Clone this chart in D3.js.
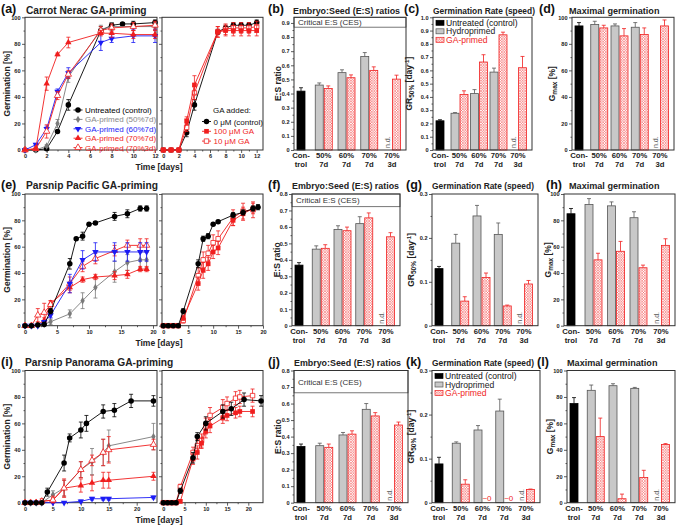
<!DOCTYPE html>
<meta charset="utf-8">
<style>
body { margin: 0; background: #fff; }
text { font-family: "Liberation Sans", Arial, sans-serif; }
.frame { fill: none; stroke: #333; stroke-width: 1; }
.axis path { display: none; }
.axis line { stroke: #333; stroke-width: 0.8; }
.axis text { font-size: 5.6px; font-weight: bold; fill: #222; font-family: "Liberation Sans", Arial, sans-serif; }
.letter { font-size: 12.5px; font-weight: bold; fill: #111; }
.title { font-weight: bold; fill: #222; }
.axtitle { font-size: 8.5px; font-weight: bold; fill: #222; }
.leg { font-size: 8px; }
.bleg { font-size: 8.6px; }
.xlab { font-size: 7.7px; font-weight: bold; fill: #222; }
.ces { font-size: 8px; fill: #333; }
</style>
<svg width="677" height="527"></svg>
<script src="https://d3js.org/d3.v7.min.js"></script>
<script>
// ---------------- germination curves [%] ----------------
// (a) carrot Nerac, primed seed lots
var daysA = [0, 1, 2, 3, 4, 7, 8, 9, 10, 12];
var aCtrl     = [0, 0, 1, 14, 34, 90, 94, 95, 95, 96];
var aCtrlErr  = [0, 0, 1, 1, 4, 3, 2, 1, 2, 2];
var aGA50     = [0, 0, 3, 20, 55, 91, 93, null, 93, 93];
var aGA50Err  = [0, 0, 1, 3, 4, 3, 3, null, 3, 3];
var aGA60     = [0, 4, 16, 44, 58, 81, 84, null, 86, 86];
var aGA60Err  = [1, 1, 2, 2, 4, 6, 3, null, 5, 5];
var aGA70     = [0, 1, 50, 72, 81, 88, 88, null, 87, 87];
var aGA70Err  = [0, 1, 5, 1, 4, 2, 3, null, 3, 3];
var aGA70s    = [0, 1, 14, 41, 57, 90, 92, null, 93, 94];
var aGA70sErr = [1, 1, 5, 3, 3, 3, 3, null, 3, 3];
// (a) right: GA added to the medium
var daysA2 = [0, 1, 2, 3, 4, 7, 8, 9, 10, 11, 12];
var a2Ctrl     = [0, 0, 0, 13, 34, 89, 92, 94, 94, 94, 96];
var a2CtrlErr  = [0, 0, 1, 3, 4, 2, 2, 2, 2, 2, 2];
var a2GA100    = [0, 0, 0, 22, 49, 89, 90, 90, 90, 90, 90];
var a2GA100Err = [0, 0, 0, 3, 7, 4, 4, 4, 4, 4, 4];
var a2GA10     = [0, 0, 0, 17, 43, 89, 91, 92, 92, 92, 93];
var a2GA10Err  = [0, 0, 0, 3, 5, 4, 4, 4, 4, 4, 4];

// (e) parsnip Pacific
var daysE = [0, 1, 2, 3, 4, 7, 8, 9, 10, 11, 14, 16, 18, 19];
var eCtrl     = [0, 0, 0.5, 1, 11, 47, 66, 68, 77, 78, 83, 85, 89, 89];
var eCtrlErr  = [0, 0, 0, 0, 2, 4, 1, 3, 1, 1, 3, 3, 2, 2];
var eGA50     = [0, 0, 0, 1, 3, 9, null, 19, null, 29, 41, 48, 50, 50];
var eGA50Err  = [0, 0, 0, 0, 2, 3, null, 6, null, 8, 8, 6, 6, 6];
var eGA60     = [0, 0, 0, 3, 8, 32, null, 50, null, 56, 56, 56, 56, 56];
var eGA60Err  = [0, 0, 0, 1, 2, 7, null, 7, null, 7, 7, 7, 7, 7];
var eGA70     = [0, 0, 1, 4, 17, 29, null, 35, null, 37, 38, 39, 43, 43];
var eGA70Err  = [0, 0, 1, 2, 2, 4, null, 2, null, 2, 3, 3, 2, 2];
var eGA70s    = [0, 0, 8, 10, 16, 32, null, 45, null, 51, 57, 61, 61, 61];
var eGA70sErr = [0, 0, 5, 7, 3, 5, null, 4, null, 4, 4, 4, 5, 5];
var e2Ctrl     = [0, 0, 0, 0, 11, 47, 66, 68, 77, 79, 84, 86, 89, 90];
var e2CtrlErr  = [0, 0, 0, 0, 2, 3, 2, 2, 1, 1, 2, 2, 2, 2];
var e2GA100    = [0, 0, 0, 0, 6, 32, 42, 47, 56, 59, 80, 85, 89, null];
var e2GA100Err = [0, 0, 0, 0, 2, 5, 6, 5, 5, 5, 4, 5, 4, null];
var e2GA10     = [0, 0, 0, 0, 4, 38, 50, 55, 63, 66, 82, 87, 88, null];
var e2GA10Err  = [0, 0, 0, 0, 2, 6, 6, 6, 6, 6, 6, 6, 6, null];

// (i) parsnip Panorama
var daysI = [0, 1, 2, 3, 4, 5, 7, 8, 10, 11, 12, 14, 15, 16, 19, 23];
var iCtrl     = [0, 0, 0, 0, 8, null, 30, 49, 55, 60, null, 69, null, 70, 77, 77];
var iCtrlErr  = [0, 0, 0, 0, 3, null, 6, 3, 6, 6, null, 5, null, 5, 5, 4];
var iGA50     = [0, 0, 0, 0, null, 6, 11, null, 25, null, 31, 38, 43, null, null, 50];
var iGA50Err  = [0, 0, 0, 0, null, 3, 6, null, 6, null, 10, 10, 12, null, null, 10];
var iGA60     = [0, 0, 0, 0, null, 0, 0, null, 1, null, 3, 3, 3, null, null, 4];
var iGA60Err  = [0, 0, 0, 0, null, 0, 0, null, 1, null, 1, 1, 1, null, null, 1];
var iGA70     = [0, 0, 0, 1, null, 2, 11, null, 13, null, 15, 17, 17, null, null, 20];
var iGA70Err  = [0, 0, 0, 1, null, 2, 7, null, 5, null, 6, 6, 6, null, null, 3];
var iGA70s    = [0, 0, 0, 1, null, 2, 11, null, 25, null, 32, 38, 40, null, null, 44];
var iGA70sErr = [0, 0, 0, 2, null, 3, 6, null, 6, null, 4, 10, 10, null, null, 4];
var daysI2 = [0, 1, 2, 3, 4, 7, 8, 9, 10, 11, 14, 15, 16, 17, 18, 19, 21, 23];
var i2Ctrl     = [0, 0, 0, 0, 9, 34, 50, null, 60, null, 69, null, 71, null, null, 78, null, 77];
var i2CtrlErr  = [0, 0, 0, 0, 2, 4, 3, null, 5, null, 5, null, 5, null, null, 5, null, 4];
var i2GA100    = [0, 0, 0, 0, 1, 33, 38, 45, 54, 58, 64, 66, null, 68, 69, null, 69, null];
var i2GA100Err = [0, 0, 0, 0, 1, 4, 5, 4, 5, 5, 4, 4, null, 4, 4, null, 4, null];
var i2GA10     = [0, 0, 0, 0, 12, 38, 43, 47, 58, 66, 72, 75, null, 79, 80, null, 81, null];
var i2GA10Err  = [0, 0, 0, 0, 2, 4, 5, 5, 6, 6, 6, 5, null, 5, 5, null, 5, null];

// ---------------- bar charts ----------------
var groups = ["Con-|trol", "50%|7d", "60%|7d", "70%|7d", "70%|3d"];
// [value, error] of the untreated control; then hydroprimed / GA-primed for 50%7d,60%7d,70%7d,70%3d
var esCarrotCtrl = [0.417, 0.024];
var esCarrotHydro = [0.46, 0.548, 0.662, null], esCarrotHydroErr = [0.015, 0.02, 0.028, null];
var esCarrotGA = [0.436, 0.512, 0.564, 0.502], esCarrotGAErr = [0.018, 0.02, 0.025, 0.028];
var grCarrotCtrl = [0.22, 0.008];
var grCarrotHydro = [0.277, 0.425, 0.587, null], grCarrotHydroErr = [0.005, 0.03, 0.03, null];
var grCarrotGA = [0.418, 0.663, 0.868, 0.62], grCarrotGAErr = [0.028, 0.055, 0.02, 0.085];
var gmCarrotCtrl = [93.5, 2.5];
var gmCarrotHydro = [94.5, 93.5, 92.5, null], gmCarrotHydroErr = [2.5, 1.5, 3.5, null];
var gmCarrotGA = [92, 86, 87, 93.5], gmCarrotGAErr = [2, 5.5, 5, 4.5];

var esPacificCtrl = [0.368, 0.015];
var esPacificHydro = [0.465, 0.585, 0.62, null], esPacificHydroErr = [0.02, 0.022, 0.042, null];
var esPacificGA = [0.47, 0.577, 0.655, 0.54], esPacificGAErr = [0.022, 0.022, 0.03, 0.025];
var grPacificCtrl = [0.13, 0.005];
var grPacificHydro = [0.188, 0.25, 0.208, null], grPacificHydroErr = [0.02, 0.024, 0.026, null];
var grPacificGA = [0.056, 0.11, 0.045, 0.095], grPacificGAErr = [0.01, 0.01, 0.002, 0.008];
var gmPacificCtrl = [85, 4];
var gmPacificHydro = [92, 91, 82, null], gmPacificHydroErr = [4.5, 3, 4.5, null];
var gmPacificGA = [50, 56.5, 44, 61], gmPacificGAErr = [5, 7.5, 2, 5];

var esPanoramaCtrl = [0.34, 0.015];
var esPanoramaHydro = [0.345, 0.41, 0.565, null], esPanoramaHydroErr = [0.015, 0.015, 0.035, null];
var esPanoramaGA = [0.335, 0.415, 0.525, 0.47], esPanoramaGAErr = [0.02, 0.02, 0.02, 0.018];
var grPanoramaCtrl = [0.088, 0.015];
var grPanoramaHydro = [0.135, 0.165, 0.208, null], grPanoramaHydroErr = [0.003, 0.01, 0.027, null];
var grPanoramaGA = [0.042, null, null, 0.03], grPanoramaGAErr = [0.01, null, null, 0.001];
var gmPanoramaCtrl = [75, 4.5];
var gmPanoramaHydro = [85, 88.5, 86.5, null], gmPanoramaHydroErr = [4, 1.5, 0.7, null];
var gmPanoramaGA = [50, 3, 19, 44], gmPanoramaGAErr = [14, 3.5, 5.5, 0.7];

// critical E:S ratio of each seed lot
var cesValues = [0.87, 0.723, 0.665];

// ---------------- drawing ----------------
var svg = d3.select("svg");
var red = "#f01e1e";

// fine red cross-hatch for the GA-primed bars
var defs = svg.append("defs");
var hatch = defs.append("pattern").attr("id", "hatch")
    .attr("patternUnits", "userSpaceOnUse").attr("width", 2.6).attr("height", 2.6);
hatch.append("rect").attr("width", 2.6).attr("height", 2.6).attr("fill", "#fff");
hatch.append("path")
    .attr("d", "M-1,1L1,-1M0,2.6L2.6,0M1.6,3.6L3.6,1.6M-1,1.6L1,3.6M0,0L2.6,2.6M1.6,-1L3.6,1")
    .attr("stroke", "#f34848").attr("stroke-width", 0.5);

// pixel geometry of the three rows (bottom, top)
var rowY = [[150, 17.3], [325.7, 194], [502.7, 370.5]];

var stCtrl  = {color: "#000", symbol: d3.symbolCircle, size: 24};
var stGA50  = {color: "#7a7a7a", symbol: d3.symbolDiamond, size: 16};
var stGA60  = {color: "#1c1cf5", symbol: d3.symbolTriangle, size: 18, flip: true};
var stGA70  = {color: red, symbol: d3.symbolTriangle, size: 18};
var stGA70s = {color: red, symbol: d3.symbolTriangle, size: 18, open: true};
var stGA100 = {color: red, symbol: d3.symbolSquare, size: 22};
var stGA10  = {color: red, symbol: d3.symbolSquare, size: 20, open: true};

function marker(sel, st) {
  sel.attr("d", d3.symbol().type(st.symbol).size(st.size))
    .attr("fill", st.open ? "#fff" : st.color)
    .attr("stroke", st.color)
    .attr("stroke-width", st.open ? 0.8 : 0);
}

function frame(g, x0, x1, y0, y1) {
  g.append("rect").attr("class", "frame")
    .attr("x", x0).attr("y", y1).attr("width", x1 - x0).attr("height", y0 - y1);
}

function curvePlot(o) {
  var y0 = rowY[o.row][0], y1 = rowY[o.row][1];
  var x = d3.scaleLinear().domain(o.domain).range(o.range);
  var y = d3.scaleLinear().domain([0, 100]).range([y0, y1]);
  var g = svg.append("g");

  g.append("g").attr("class", "axis").attr("transform", "translate(0," + y0 + ")")
    .call(d3.axisBottom(x).tickValues(o.ticks).tickSize(3).tickPadding(1.5));
  g.append("g").attr("class", "axis").attr("transform", "translate(0," + y0 + ")")
    .call(d3.axisBottom(x).tickValues(o.minor).tickSize(1.5).tickFormat(""));
  var yAxis = d3.axisLeft(y).tickValues([0, 20, 40, 60, 80, 100]).tickSize(3).tickPadding(1.5);
  if (!o.yLabels) yAxis.tickFormat("");
  g.append("g").attr("class", "axis").attr("transform", "translate(" + o.frame[0] + ",0)").call(yAxis);
  g.append("g").attr("class", "axis").attr("transform", "translate(" + o.frame[0] + ",0)")
    .call(d3.axisLeft(y).tickValues([10, 30, 50, 70, 90]).tickSize(1.5).tickFormat(""));
  frame(g, o.frame[0], o.frame[1], y0, y1);

  o.series.forEach(function(s) {
    var pts = o.days.map(function(d, i) { return {d: d, v: s.v[i], e: s.e[i]}; })
      .filter(function(p) { return p.v != null; });
    g.append("path").datum(pts)
      .attr("fill", "none").attr("stroke", s.st.color).attr("stroke-width", 0.9)
      .attr("d", d3.line().x(function(p) { return x(p.d); }).y(function(p) { return y(p.v); }));
    g.selectAll(null).data(pts.filter(function(p) { return p.e > 0; })).enter().append("path")
      .attr("fill", "none").attr("stroke", s.st.color).attr("stroke-width", 0.8)
      .attr("d", function(p) {
        var cx = x(p.d), a = y(p.v + p.e), b = y(Math.max(0, p.v - p.e));
        return "M" + (cx - 2) + "," + a + "H" + (cx + 2) + "M" + cx + "," + a + "V" + b +
               "M" + (cx - 2) + "," + b + "H" + (cx + 2);
      });
    g.selectAll(null).data(pts).enter().append("path")
      .attr("transform", function(p) {
        return "translate(" + x(p.d) + "," + y(p.v) + ")" + (s.st.flip ? " rotate(180)" : "");
      })
      .call(marker, s.st);
  });
  return g;
}

function lineLegend(x, y, step, entries) {
  var g = svg.append("g");
  entries.forEach(function(en, i) {
    var yy = y + i * step;
    g.append("line").attr("x1", x - 4.5).attr("x2", x + 4.5).attr("y1", yy).attr("y2", yy)
      .attr("stroke", en.st.color).attr("stroke-width", 0.9);
    g.append("path").attr("transform", "translate(" + x + "," + yy + ")" + (en.st.flip ? " rotate(180)" : ""))
      .call(marker, en.st);
    g.append("text").attr("class", "leg").attr("x", x + 7).attr("y", yy + 3)
      .attr("fill", en.color || en.st.color).text(en.label);
  });
}

function barPlot(o) {
  var y0 = rowY[o.row][0], y1 = rowY[o.row][1];
  var x = d3.scalePoint().domain(groups).range([o.x0 + 7, o.x1 - 14]);
  var y = d3.scaleLinear().domain([0, o.yMax]).range([y0, y1]);
  var g = svg.append("g");
  var bw = 8;

  var bars = [{g: groups[0], v: o.ctrl[0], e: o.ctrl[1], kind: "ctrl"}];
  groups.slice(1).forEach(function(gr, i) {
    if (o.hydro[i] != null) bars.push({g: gr, v: o.hydro[i], e: o.hydroErr[i], kind: "hydro"});
    if (o.ga[i] != null) bars.push({g: gr, v: o.ga[i], e: o.gaErr[i], kind: "ga"});
  });
  function bx(d) { return x(d.g) + (d.kind == "ctrl" ? -bw / 2 : d.kind == "hydro" ? -bw - 0.5 : 0.5); }
  var fill = {ctrl: "#000", hydro: "#c8c8c8", ga: "url(#hatch)"};
  var stroke = {ctrl: "#000", hydro: "#555", ga: red};

  var yAxis = d3.axisLeft(y).tickValues(o.ticks).tickSize(3).tickPadding(1.5)
    .tickFormat(function(d) { return d === 0 ? "0" : o.fmt(d); });
  g.append("g").attr("class", "axis").attr("transform", "translate(" + o.x0 + ",0)").call(yAxis);
  g.append("g").attr("class", "axis").attr("transform", "translate(" + o.x0 + ",0)")
    .call(d3.axisLeft(y).tickValues(o.minor).tickSize(1.5).tickFormat(""));

  if (o.ces != null) {
    g.append("rect").attr("x", o.x0).attr("y", y1).attr("width", o.x1 - o.x0)
      .attr("height", y(o.ces) - y1).attr("fill", "#fff").attr("stroke", "#555").attr("stroke-width", 0.8);
    g.append("text").attr("class", "ces").attr("x", o.x0 + 4).attr("y", (y(o.ces) + y1) / 2 + 2.9)
      .text("Critical E:S (CES)");
  }

  g.selectAll(null).data(bars).enter().append("path")
    .attr("fill", "none").attr("stroke", function(d) { return stroke[d.kind]; }).attr("stroke-width", 0.8)
    .attr("d", function(d) {
      var cx = bx(d) + bw / 2, a = y(d.v + d.e), b = y(d.v);
      return "M" + (cx - 2) + "," + a + "H" + (cx + 2) + "M" + cx + "," + a + "V" + b;
    });
  g.selectAll(null).data(bars).enter().append("rect")
    .attr("x", bx).attr("width", bw)
    .attr("y", function(d) { return y(d.v); })
    .attr("height", function(d) { return y0 - y(d.v); })
    .attr("fill", function(d) { return fill[d.kind]; })
    .attr("stroke", function(d) { return stroke[d.kind]; }).attr("stroke-width", 0.8);

  // not determined: hydropriming 70% 3d
  g.append("text").attr("transform", "translate(" + (x(groups[4]) - 2) + "," + (y0 - 2) + ") rotate(-90)")
    .attr("font-size", "7px").attr("fill", "#555").text("n.d.");
  (o.zeroLabels || []).forEach(function(i) {
    g.append("text").attr("x", x(groups[i + 1]) + 4.5).attr("y", y0 - 1.5).attr("text-anchor", "middle")
      .attr("font-size", "8px").attr("fill", red).text("~0");
  });

  groups.forEach(function(gr) {
    var parts = gr.split("|");
    g.append("text").attr("class", "xlab").attr("x", x(gr)).attr("y", y0 + 8).attr("text-anchor", "middle").text(parts[0]);
    g.append("text").attr("class", "xlab").attr("x", x(gr)).attr("y", y0 + 17).attr("text-anchor", "middle").text(parts[1]);
  });
  frame(g, o.x0, o.x1, y0, y1);

  // y title
  var t = g.append("text").attr("class", "axtitle").attr("text-anchor", "middle")
    .attr("transform", "translate(" + o.labelX + "," + (y0 + y1) / 2 + ") rotate(-90)");
  if (o.kind == "es") t.text("E:S ratio");
  if (o.kind == "gr") {
    t.append("tspan").text("GR");
    t.append("tspan").attr("font-size", "6.5px").attr("dy", 2).text("50%");
    t.append("tspan").attr("dy", -2).text(" [day");
    t.append("tspan").attr("font-size", "6px").attr("dy", -3).text("-1");
    t.append("tspan").attr("dy", 3).text("]");
  }
  if (o.kind == "gm") {
    t.append("tspan").text("G");
    t.append("tspan").attr("font-size", "6.5px").attr("dy", 2).text("max");
    t.append("tspan").attr("dy", -2).text(" [%]");
  }
  if (o.legend) {
    var items = [["Untreated (control)", "ctrl", "#111"], ["Hydroprimed", "hydro", "#222"], ["GA-primed", "ga", red]];
    items.forEach(function(it, i) {
      var yy = y1 + 5.5 + i * 8.5;
      g.append("rect").attr("x", o.x0 + 3).attr("y", yy - 2.5).attr("width", 8).attr("height", 5)
        .attr("fill", fill[it[1]]).attr("stroke", stroke[it[1]]).attr("stroke-width", 0.7);
      g.append("text").attr("class", "bleg").attr("x", o.x0 + 13).attr("y", yy + 3).attr("fill", it[2]).text(it[0]);
    });
  }
}

function heading(letter, lx, title, tx, y, size) {
  svg.append("text").attr("class", "letter").attr("x", lx).attr("y", y - 0.5).text(letter);
  svg.append("text").attr("class", "title").attr("x", tx).attr("y", y).attr("font-size", size + "px").text(title);
}

function S(st, v, e) { return {st: st, v: v, e: e}; }

// ---- row 1: carrot Nerac ----
curvePlot({row: 0, frame: [25, 157], domain: [0, 12], range: [25, 155],
  ticks: d3.range(0, 13, 2), minor: d3.range(1, 12, 2), yLabels: true, days: daysA,
  series: [S(stCtrl, aCtrl, aCtrlErr), S(stGA50, aGA50, aGA50Err), S(stGA60, aGA60, aGA60Err),
           S(stGA70s, aGA70s, aGA70sErr), S(stGA70, aGA70, aGA70Err)]});
curvePlot({row: 0, frame: [162, 263], domain: [0, 12], range: [163.3, 256.7],
  ticks: d3.range(0, 13, 2), minor: d3.range(1, 12, 2), yLabels: false, days: daysA2,
  series: [S(stCtrl, a2Ctrl, a2CtrlErr), S(stGA10, a2GA10, a2GA10Err), S(stGA100, a2GA100, a2GA100Err)]});
lineLegend(78, 110, 9.4, [
  {st: stCtrl, label: "Untreated (control)"},
  {st: stGA50, label: "GA-primed (50%7d)", color: "#888"},
  {st: stGA60, label: "GA-primed (60%7d)"},
  {st: stGA70, label: "GA-primed (70%7d)"},
  {st: stGA70s, label: "GA-primed (70%3d)"}]);
svg.append("text").attr("class", "leg").attr("x", 213).attr("y", 113).attr("fill", "#111").text("GA added:");
lineLegend(206.5, 121.5, 9.8, [
  {st: stCtrl, label: "0 μM (control)", color: "#111"},
  {st: stGA100, label: "100 μM GA"},
  {st: stGA10, label: "10 μM GA"}]);

// ---- row 2: parsnip Pacific ----
curvePlot({row: 1, frame: [25, 157], domain: [0, 20], range: [25, 153],
  ticks: [0, 5, 10, 15, 20], minor: [2.5, 7.5, 12.5, 17.5], yLabels: true, days: daysE,
  series: [S(stGA50, eGA50, eGA50Err), S(stGA70, eGA70, eGA70Err), S(stGA70s, eGA70s, eGA70sErr),
           S(stGA60, eGA60, eGA60Err), S(stCtrl, eCtrl, eCtrlErr)]});
curvePlot({row: 1, frame: [162, 263], domain: [0, 20], range: [163.3, 263],
  ticks: [0, 5, 10, 15, 20], minor: [2.5, 7.5, 12.5, 17.5], yLabels: false, days: daysE,
  series: [S(stGA10, e2GA10, e2GA10Err), S(stGA100, e2GA100, e2GA100Err), S(stCtrl, e2Ctrl, e2CtrlErr)]});

// ---- row 3: parsnip Panorama ----
curvePlot({row: 2, frame: [25, 157], domain: [0, 20], range: [25, 136.7],
  ticks: [0, 5, 10, 15, 20], minor: [2.5, 7.5, 12.5, 17.5], yLabels: true, days: daysI,
  series: [S(stGA60, iGA60, iGA60Err), S(stGA70, iGA70, iGA70Err), S(stGA50, iGA50, iGA50Err),
           S(stGA70s, iGA70s, iGA70sErr), S(stCtrl, iCtrl, iCtrlErr)]});
curvePlot({row: 2, frame: [162, 263], domain: [0, 20], range: [163.3, 248.3],
  ticks: [0, 5, 10, 15, 20], minor: [2.5, 7.5, 12.5, 17.5], yLabels: false, days: daysI2,
  series: [S(stGA10, i2GA10, i2GA10Err), S(stGA100, i2GA100, i2GA100Err), S(stCtrl, i2Ctrl, i2CtrlErr)]});

// axis titles of the curve panels
rowY.forEach(function(r) {
  svg.append("text").attr("class", "axtitle").attr("text-anchor", "middle")
    .attr("transform", "translate(10," + (r[0] + r[1]) / 2 + ") rotate(-90)").text("Germination [%]");
  svg.append("text").attr("class", "axtitle").attr("text-anchor", "middle").attr("font-size", "9.5px")
    .attr("x", 159).attr("y", r[0] + 20).text("Time [days]");
});

// ---- bar panels ----
var f1 = d3.format(".1f");
var fInt = d3.format("d");
barPlot({row: 0, x0: 294, x1: 406, yMax: 0.94, ticks: d3.range(0, 10).map(function(i) { return i / 10; }),
  minor: d3.range(0, 9).map(function(i) { return i / 10 + 0.05; }), fmt: f1, kind: "es", labelX: 281,
  ces: cesValues[0], ctrl: esCarrotCtrl, hydro: esCarrotHydro, hydroErr: esCarrotHydroErr, ga: esCarrotGA, gaErr: esCarrotGAErr});
barPlot({row: 0, x0: 433, x1: 532, yMax: 1.0, ticks: d3.range(0, 11).map(function(i) { return i / 10; }),
  minor: d3.range(0, 10).map(function(i) { return i / 10 + 0.05; }), fmt: f1, kind: "gr", labelX: 412, legend: true,
  ctrl: grCarrotCtrl, hydro: grCarrotHydro, hydroErr: grCarrotHydroErr, ga: grCarrotGA, gaErr: grCarrotGAErr});
barPlot({row: 0, x0: 572, x1: 674, yMax: 100, ticks: [0, 20, 40, 60, 80, 100], minor: [10, 30, 50, 70, 90],
  fmt: fInt, kind: "gm", labelX: 555,
  ctrl: gmCarrotCtrl, hydro: gmCarrotHydro, hydroErr: gmCarrotHydroErr, ga: gmCarrotGA, gaErr: gmCarrotGAErr});

barPlot({row: 1, x0: 292, x1: 400, yMax: 0.8, ticks: d3.range(0, 9).map(function(i) { return i / 10; }),
  minor: d3.range(0, 8).map(function(i) { return i / 10 + 0.05; }), fmt: f1, kind: "es", labelX: 280,
  ces: cesValues[1], ctrl: esPacificCtrl, hydro: esPacificHydro, hydroErr: esPacificHydroErr, ga: esPacificGA, gaErr: esPacificGAErr});
barPlot({row: 1, x0: 432, x1: 538, yMax: 0.3, ticks: [0, 0.1, 0.2, 0.3], minor: [0.05, 0.15, 0.25], fmt: f1,
  kind: "gr", labelX: 414,
  ctrl: grPacificCtrl, hydro: grPacificHydro, hydroErr: grPacificHydroErr, ga: grPacificGA, gaErr: grPacificGAErr});
barPlot({row: 1, x0: 564, x1: 675, yMax: 100, ticks: [0, 20, 40, 60, 80, 100], minor: [10, 30, 50, 70, 90],
  fmt: fInt, kind: "gm", labelX: 551,
  ctrl: gmPacificCtrl, hydro: gmPacificHydro, hydroErr: gmPacificHydroErr, ga: gmPacificGA, gaErr: gmPacificGAErr});

barPlot({row: 2, x0: 294, x1: 408, yMax: 0.8, ticks: d3.range(0, 9).map(function(i) { return i / 10; }),
  minor: d3.range(0, 8).map(function(i) { return i / 10 + 0.05; }), fmt: f1, kind: "es", labelX: 281,
  ces: cesValues[2], ctrl: esPanoramaCtrl, hydro: esPanoramaHydro, hydroErr: esPanoramaHydroErr, ga: esPanoramaGA, gaErr: esPanoramaGAErr});
barPlot({row: 2, x0: 432, x1: 540, yMax: 0.3, ticks: [0, 0.1, 0.2, 0.3], minor: [0.05, 0.15, 0.25], fmt: f1,
  kind: "gr", labelX: 414, legend: true, zeroLabels: [1, 2],
  ctrl: grPanoramaCtrl, hydro: grPanoramaHydro, hydroErr: grPanoramaHydroErr, ga: grPanoramaGA, gaErr: grPanoramaGAErr});
barPlot({row: 2, x0: 567, x1: 675, yMax: 100, ticks: [0, 20, 40, 60, 80, 100], minor: [10, 30, 50, 70, 90],
  fmt: fInt, kind: "gm", labelX: 553,
  ctrl: gmPanoramaCtrl, hydro: gmPanoramaHydro, hydroErr: gmPanoramaHydroErr, ga: gmPanoramaGA, gaErr: gmPanoramaGAErr});

// ---- headings ----
heading("(a)", 1, "Carrot Nerac GA-priming", 26, 13.5, 10.2);
heading("(b)", 268, "Embryo:Seed (E:S) ratios", 293, 13.5, 8.9);
heading("(c)", 404, "Germination Rate (speed)", 433, 13.5, 8.4);
heading("(d)", 539, "Maximal germination", 569, 13.5, 9.1);
heading("(e)", 1, "Parsnip Pacific GA-priming", 26, 189, 10.2);
heading("(f)", 268, "Embryo:Seed (E:S) ratios", 292, 189, 8.9);
heading("(g)", 406, "Germination Rate (speed)", 432, 189, 8.4);
heading("(h)", 546, "Maximal germination", 569, 189, 9.1);
heading("(i)", 1, "Parsnip Panorama GA-priming", 25, 366, 10.2);
heading("(j)", 268, "Embryo:Seed (E:S) ratios", 294, 366, 8.9);
heading("(k)", 406, "Germination Rate (speed)", 432, 366, 8.4);
heading("(l)", 537, "Maximal germination", 567, 366, 9.1);
</script>
